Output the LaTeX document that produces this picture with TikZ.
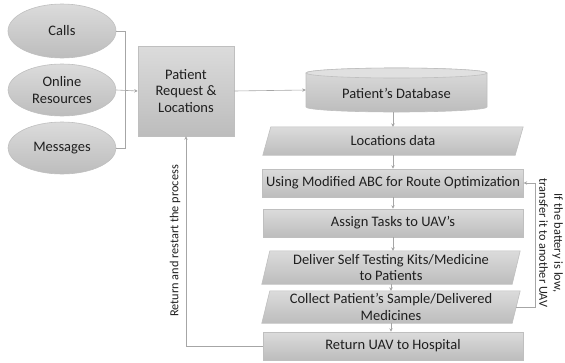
\documentclass[tikz,border=0pt]{standalone}
\usepackage{fontspec}
\setmainfont{Carlito}
\usetikzlibrary{arrows.meta,shapes.geometric,calc}
\begin{document}
\begin{tikzpicture}[x=1pt,y=1pt,
  font=\fontsize{14.5}{16.5}\selectfont,
  box/.style={draw=black!25, line width=0.6pt, top color=black!14, bottom color=black!26, text=black!88},
  plain/.style={draw=none, inner sep=0pt, text=black!88, align=center},
  lbl/.style={plain, font=\fontsize{12.3}{15}\selectfont},
  conn/.style={draw=black!35, line width=0.6pt},
  arr/.style={conn, -{Stealth[length=3.5pt,width=3.5pt]}}
]
\useasboundingbox (0,0) rectangle (565,-362);
% input ellipses
\node[box, ellipse, minimum width=108, minimum height=54, inner sep=0pt, align=center] (calls) at (62,-31) {Calls};
\node[box, ellipse, minimum width=108, minimum height=52, inner sep=0pt, align=center] (online) at (62,-90) {Online\\Resources};
\node[box, ellipse, minimum width=108, minimum height=52, inner sep=0pt, align=center] (msgs) at (62,-148) {Messages};
\coordinate (join) at (125,-90);
% request box
\node[box, rectangle, minimum width=96, minimum height=90, align=center] (req) at (186,-91) {Patient\\Request \&\\Locations};
% database cylinder
\draw[box] (306,-73) -- (306,-107) arc (180:360:90.5 and 5) -- (487,-73) arc (0:180:90.5 and 5) -- cycle;
\draw[draw=black!25, line width=0.6pt, fill=black!12] (396.5,-73) ellipse (90.5 and 5);
\node[plain, minimum width=181, minimum height=44] (db) at (396.5,-90) {};
\node[plain] at (396.5,-93) {Patient’s Database};
% locations data
\node[plain, minimum width=252, minimum height=28] (loc) at (393,-141) {};
\draw[box] ([xshift=-4]loc.south west) -- ([xshift=4]loc.north west) -- ([xshift=4]loc.north east) -- ([xshift=-4]loc.south east) -- cycle;
\node[plain] at (loc) {Locations data};
% ABC
\node[box, rectangle, minimum width=260, minimum height=28] (abc) at (393,-183) {Using Modified ABC for Route Optimization};
% assign
\node[box, rectangle, minimum width=260, minimum height=28] (assign) at (393,-223) {Assign Tasks to UAV’s};
% deliver
\node[plain, minimum width=250, minimum height=33] (deliver) at (391,-267.5) {};
\draw[box] ([xshift=-4]deliver.south west) -- ([xshift=4]deliver.north west) -- ([xshift=4]deliver.north east) -- ([xshift=-4]deliver.south east) -- cycle;
\node[plain] at (deliver) {Deliver Self Testing Kits/Medicine\\to Patients};
% collect
\node[plain, minimum width=250, minimum height=32] (collect) at (391,-307) {};
\draw[box] ([xshift=-4]collect.south west) -- ([xshift=4]collect.north west) -- ([xshift=4]collect.north east) -- ([xshift=-4]collect.south east) -- cycle;
\node[plain] at (collect) {Collect Patient’s Sample/Delivered\\Medicines};
% return
\node[box, rectangle, minimum width=260, minimum height=28] (ret) at (393,-346) {Return UAV to Hospital};
% connectors
\draw[conn] (calls.east) -| (join);
\draw[conn] (msgs.east) -| (join);
\draw[arr] (online.east) -- (req.west);
\draw[arr] (req.east) -- (db.west);
\draw[arr] (db.south -| loc.north) -- (loc.north);
\draw[arr] (loc.south) -- (loc.south |- abc.north);
\draw[arr] (abc.south) -- (abc.south |- assign.north);
\draw[arr] (assign.south) -- (assign.south |- deliver.north);
\draw[arr] (deliver.south) -- (deliver.south |- collect.north);
\draw[arr] (collect.south) -- (collect.south |- ret.north);
\coordinate (rb) at (535,-307);
\draw[arr] (collect.east) -- (rb) |- (abc.east);
\draw[arr] (ret.west) -| (req.south);
% labels
\node[lbl, rotate=90] (lblL) at (175,-241) {Return and restart the process};
\node[lbl, rotate=-90] (lblR) at (551,-243) {If the battery is low,\\transfer it to another UAV};
\end{tikzpicture}
\end{document}
